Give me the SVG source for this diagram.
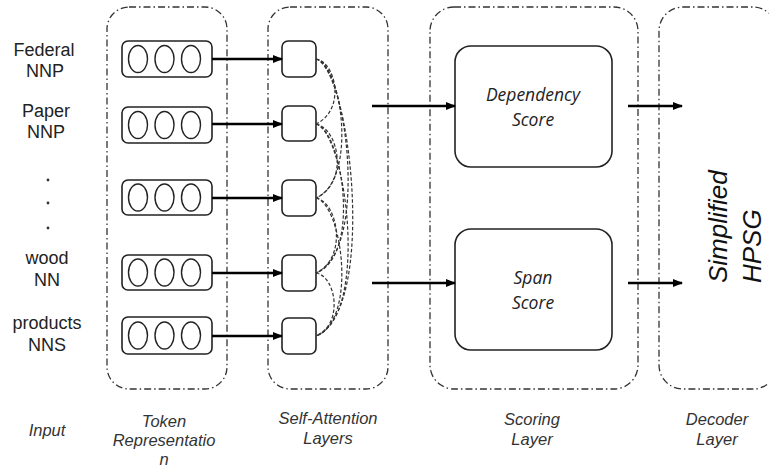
<svg xmlns="http://www.w3.org/2000/svg" width="769" height="468" viewBox="0 0 769 468">
<style>
.cont{fill:none;stroke:#333;stroke-width:1.3;stroke-dasharray:7 3 1.5 3}
.tok{fill:#fff;stroke:#222;stroke-width:1.6}
.circ{fill:none;stroke:#222;stroke-width:1.4}
.sq{fill:#fff;stroke:#222;stroke-width:1.6}
.sc{fill:#fff;stroke:#222;stroke-width:1.6}
.arr{stroke:#000;stroke-width:2.6;fill:none;marker-end:url(#ah)}
.att{fill:none;stroke:#333;stroke-width:1.2;stroke-dasharray:3.5 2}
.lbl{font-family:"Liberation Sans",Arial,sans-serif;font-size:18px;fill:#222;text-anchor:middle}
.bot{font-family:"Liberation Sans",Arial,sans-serif;font-size:16.5px;font-style:italic;fill:#333;text-anchor:middle}
.score{font-family:"Open Sans","Noto Sans",sans-serif;font-size:17.5px;font-style:italic;fill:#222;text-anchor:middle}
.big{font-family:"Liberation Sans",Arial,sans-serif;font-size:26px;font-style:italic;fill:#111}
</style>
<defs>
<marker id="ah" markerWidth="10" markerHeight="8" refX="9" refY="4" orient="auto" markerUnits="userSpaceOnUse">
<path d="M0,0 L10,4 L0,8 Z" fill="#000"/>
</marker>
<g id="ovals">
<ellipse cx="16" cy="0" rx="9.5" ry="13.5" class="circ"/>
<ellipse cx="42.5" cy="0" rx="9.5" ry="13.5" class="circ"/>
<ellipse cx="69" cy="0" rx="9.5" ry="13.5" class="circ"/>
</g>
</defs>
<rect width="769" height="468" fill="#fff"/>

<g id="containers">
<rect id="token-layer" x="107" y="7" width="120" height="382" rx="22" class="cont"/>
<rect id="attn-layer" x="268" y="7" width="120" height="382" rx="22" class="cont"/>
<rect id="scoring-layer" x="430" y="7" width="208" height="382" rx="24" class="cont"/>
<rect id="decoder-layer" x="659" y="7" width="118" height="382" rx="24" class="cont"/>
</g>

<g id="inputs">
<text class="lbl" x="44" y="56">Federal</text>
<text class="lbl" x="45" y="77">NNP</text>
<text class="lbl" x="46" y="117">Paper</text>
<text class="lbl" x="46" y="138">NNP</text>
<circle cx="48" cy="180" r="1.4" fill="#333"/>
<circle cx="48" cy="203" r="1.4" fill="#333"/>
<circle cx="48" cy="228" r="1.4" fill="#333"/>
<text class="lbl" x="47" y="264">wood</text>
<text class="lbl" x="47" y="286">NN</text>
<text class="lbl" x="47" y="329">products</text>
<text class="lbl" x="47" y="351">NNS</text>
</g>

<g id="tok1"><rect x="122" y="41" width="90" height="36" rx="6" class="tok"/><use href="#ovals" x="122" y="59"/></g>
<g id="tok2"><rect x="122" y="107" width="90" height="36" rx="6" class="tok"/><use href="#ovals" x="122" y="125"/></g>
<g id="tok3"><rect x="122" y="180" width="90" height="35" rx="6" class="tok"/><use href="#ovals" x="122" y="197.5"/></g>
<g id="tok4"><rect x="122" y="255" width="90" height="35" rx="6" class="tok"/><use href="#ovals" x="122" y="272.5"/></g>
<g id="tok5"><rect x="122" y="317" width="90" height="37" rx="6" class="tok"/><use href="#ovals" x="122" y="335.5"/></g>

<g id="att1"><rect x="282" y="41" width="34" height="36" rx="6" class="sq"/></g>
<g id="att2"><rect x="282" y="106" width="34" height="35" rx="6" class="sq"/></g>
<g id="att3"><rect x="282" y="180" width="34" height="36" rx="6" class="sq"/></g>
<g id="att4"><rect x="282" y="255" width="34" height="36" rx="6" class="sq"/></g>
<g id="att5"><rect x="282" y="318" width="34" height="36" rx="6" class="sq"/></g>

<g id="dep-score"><rect x="455" y="46" width="157" height="121" rx="16" class="sc"/>
<text class="score" x="533" y="101">Dependency</text><text class="score" x="533" y="126">Score</text></g>
<g id="span-score"><rect x="455" y="229" width="157" height="121" rx="16" class="sc"/>
<text class="score" x="533" y="284">Span</text><text class="score" x="533" y="309">Score</text></g>

<g id="hpsg">
<text class="big" transform="translate(727,283) rotate(-90)">Simplified</text>
<text class="big" transform="translate(761,283) rotate(-90)">HPSG</text>
</g>

<g id="connectors">
<line class="arr" x1="212" y1="59" x2="282" y2="59"/>
<line class="arr" x1="212" y1="124" x2="282" y2="124"/>
<line class="arr" x1="212" y1="198" x2="282" y2="198"/>
<line class="arr" x1="212" y1="273" x2="282" y2="273"/>
<line class="arr" x1="212" y1="336" x2="282" y2="336"/>
<line class="arr" x1="372" y1="106" x2="455" y2="106"/>
<line class="arr" x1="372" y1="283" x2="455" y2="283"/>
<line class="arr" x1="628" y1="106" x2="682" y2="106"/>
<line class="arr" x1="628" y1="283" x2="682" y2="283"/>
<path class="att" d="M316,59 C336,62 346,110 316,124"/>
<path class="att" d="M316,59 C342,64 358,180 316,198"/>
<path class="att" d="M316,59 C346,66 370,250 316,273"/>
<path class="att" d="M316,59 C350,68 378,310 316,336"/>
<path class="att" d="M316,124 C338,128 350,182 316,198"/>
<path class="att" d="M316,124 C342,130 362,256 316,273"/>
<path class="att" d="M316,124 C346,132 370,316 316,336"/>
<path class="att" d="M316,198 C338,202 348,258 316,273"/>
<path class="att" d="M316,198 C342,204 358,320 316,336"/>
<path class="att" d="M316,273 C336,276 344,324 316,336"/>
</g>

<g id="bottom-labels">
<text class="bot" x="47" y="436">Input</text>
<text class="bot" x="164" y="427">Token</text>
<text class="bot" x="164" y="446">Representatio</text>
<text class="bot" x="164" y="465">n</text>
<text class="bot" x="328" y="424">Self-Attention</text>
<text class="bot" x="328" y="444">Layers</text>
<text class="bot" x="532" y="425">Scoring</text>
<text class="bot" x="532" y="445">Layer</text>
<text class="bot" x="717" y="425">Decoder</text>
<text class="bot" x="717" y="445">Layer</text>
</g>
</svg>
